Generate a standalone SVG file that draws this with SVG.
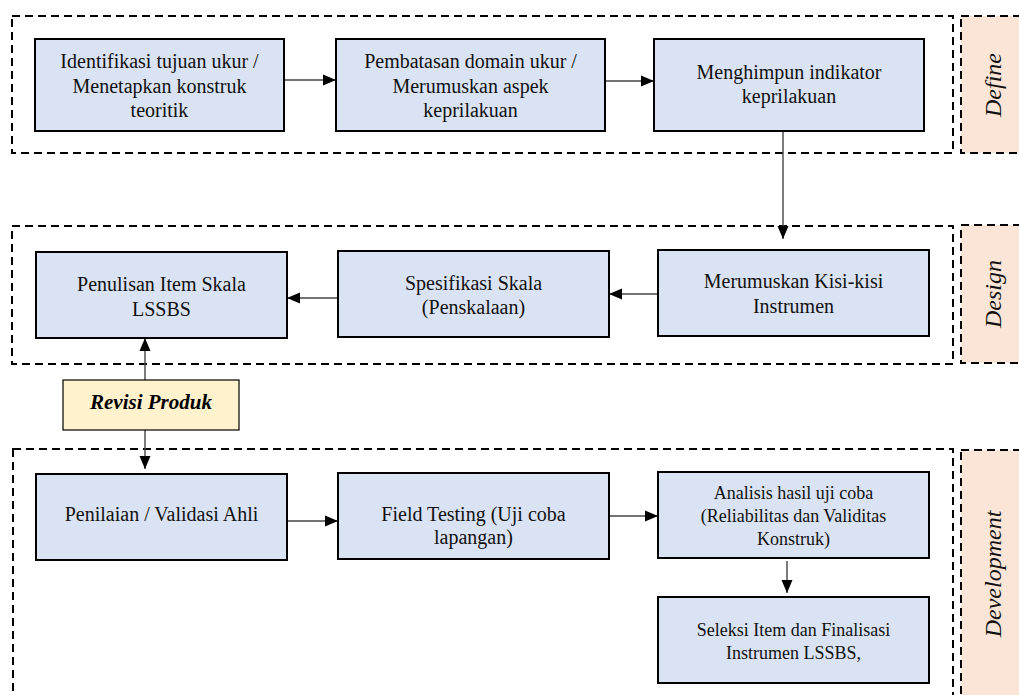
<svg xmlns="http://www.w3.org/2000/svg" width="1019" height="695" viewBox="0 0 1019 695">
<defs>
<marker id="arr" markerUnits="userSpaceOnUse" markerWidth="14" markerHeight="12" refX="13" refY="6" orient="auto">
<path d="M0,0.5 L13,6 L0,11.5 z" fill="#000"/>
</marker>
<style>
.region{fill:none;stroke:#000;stroke-width:2;stroke-dasharray:8 5}
.label{fill:#FBE5D6;stroke:#000;stroke-width:2;stroke-dasharray:8 5}
.box{fill:#DAE3F3;stroke:#000;stroke-width:2}
.rev{fill:#FFF2CC;stroke:#000;stroke-width:1.2}
.t{font-family:"Liberation Serif","Times New Roman",serif;font-size:20px;fill:#111;text-anchor:middle}
.s{font-size:18px}
.lt{font-family:"Liberation Serif","Times New Roman",serif;font-size:24px;font-style:italic;fill:#111;text-anchor:middle}
.rt{font-family:"Liberation Serif","Times New Roman",serif;font-size:21px;font-style:italic;font-weight:bold;fill:#000;text-anchor:middle}
.c{fill:none;stroke:#444;stroke-width:1.4;marker-end:url(#arr)}
</style>
</defs>
<rect width="1019" height="695" fill="#fff"/>

<g id="regions">
<rect class="region" x="12" y="16" width="941" height="137"/>
<rect class="region" x="12" y="226" width="941" height="138"/>
<rect class="region" x="13" y="449" width="940" height="260"/>
</g>

<g id="label-define">
<rect class="label" x="961" y="16" width="70" height="137"/>
<text class="lt" transform="translate(1001,85) rotate(-90)">Define</text>
</g>
<g id="label-design">
<rect class="label" x="961" y="225" width="70" height="138"/>
<text class="lt" transform="translate(1001,294) rotate(-90)">Design</text>
</g>
<g id="label-development">
<rect class="label" x="961" y="450" width="70" height="260"/>
<text class="lt" transform="translate(1001,574) rotate(-90)">Development</text>
</g>

<g id="connectors">
<line class="c" x1="284" y1="80" x2="336" y2="80"/>
<line class="c" x1="605" y1="81" x2="654" y2="81"/>
<line class="c" x1="783" y1="131" x2="783" y2="239"/>
<line class="c" x1="658" y1="294" x2="609" y2="294"/>
<line class="c" x1="338" y1="298" x2="287" y2="298"/>
<line class="c" x1="145" y1="380" x2="145" y2="338"/>
<line class="c" x1="145" y1="430" x2="145" y2="469"/>
<line class="c" x1="287" y1="521" x2="338" y2="521"/>
<line class="c" x1="609" y1="516" x2="658" y2="516"/>
<line class="c" x1="787" y1="561" x2="787" y2="593"/>
</g>

<g id="n1">
<rect class="box" x="35" y="39" width="249" height="92"/>
<text class="t" x="159.5" y="68">Identifikasi tujuan ukur /</text>
<text class="t" x="159.5" y="92.5">Menetapkan konstruk</text>
<text class="t" x="159.5" y="117">teoritik</text>
</g>
<g id="n2">
<rect class="box" x="336" y="39" width="269" height="92"/>
<text class="t" x="470.5" y="68">Pembatasan domain ukur /</text>
<text class="t" x="470.5" y="92.5">Merumuskan aspek</text>
<text class="t" x="470.5" y="117">keprilakuan</text>
</g>
<g id="n3">
<rect class="box" x="654" y="39" width="270" height="92"/>
<text class="t" x="789" y="79">Menghimpun indikator</text>
<text class="t" x="789" y="103">keprilakuan</text>
</g>

<g id="n4">
<rect class="box" x="36" y="252" width="251" height="86"/>
<text class="t" x="161.5" y="291">Penulisan Item Skala</text>
<text class="t" x="161.5" y="316">LSSBS</text>
</g>
<g id="n5">
<rect class="box" x="338" y="251" width="271" height="86"/>
<text class="t" x="473.5" y="290">Spesifikasi Skala</text>
<text class="t" x="473.5" y="314">(Penskalaan)</text>
</g>
<g id="n6">
<rect class="box" x="658" y="250" width="271" height="86"/>
<text class="t" x="793.5" y="288">Merumuskan Kisi-kisi</text>
<text class="t" x="793.5" y="313">Instrumen</text>
</g>

<g id="revisi">
<rect class="rev" x="63" y="380" width="176" height="50"/>
<text class="rt" x="151" y="409">Revisi Produk</text>
</g>

<g id="n7">
<rect class="box" x="36" y="474" width="251" height="86"/>
<text class="t" x="161.5" y="521">Penilaian / Validasi Ahli</text>
</g>
<g id="n8">
<rect class="box" x="338" y="473" width="271" height="86"/>
<text class="t" x="473.5" y="521">Field Testing (Uji coba</text>
<text class="t" x="473.5" y="544">lapangan)</text>
</g>
<g id="n9">
<rect class="box" x="658" y="472" width="271" height="86"/>
<text class="t s" x="793.5" y="499">Analisis hasil uji coba</text>
<text class="t s" x="793.5" y="522">(Reliabilitas dan Validitas</text>
<text class="t s" x="793.5" y="545">Konstruk)</text>
</g>
<g id="n10">
<rect class="box" x="658" y="597" width="271" height="86"/>
<text class="t s" x="793.5" y="636">Seleksi Item dan Finalisasi</text>
<text class="t s" x="793.5" y="659">Instrumen LSSBS,</text>
</g>
</svg>
